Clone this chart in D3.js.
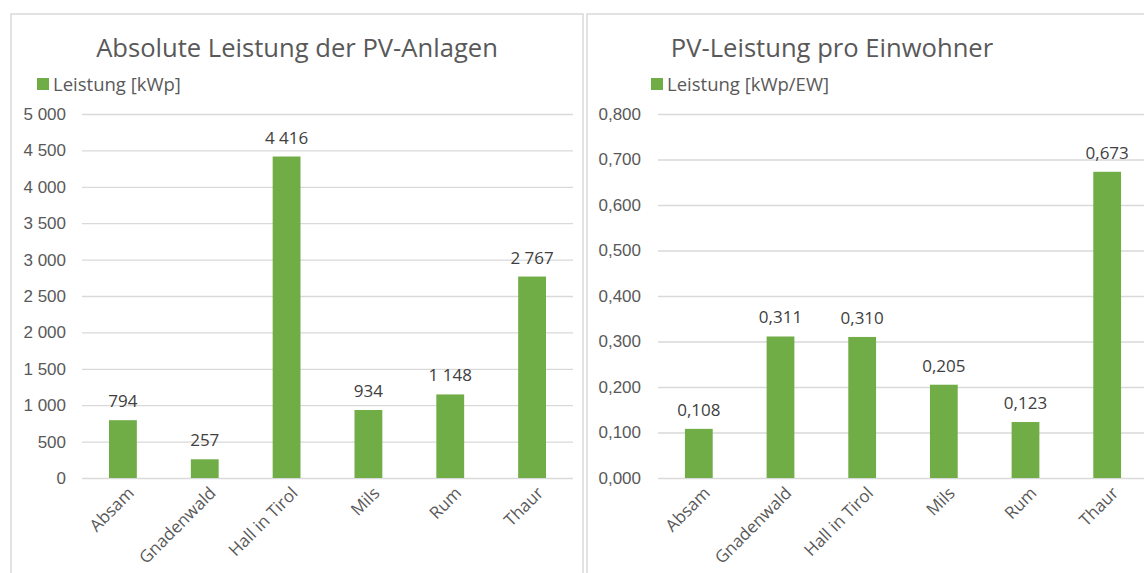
<!DOCTYPE html>
<html>
<head>
<meta charset="utf-8">
<style>
body { margin: 0; background: #fff; }
svg { font-family: "Open Sans", sans-serif; }
.grid line { stroke: #d9d9d9; stroke-width: 1.3; }
.grid path { display: none; }
.axis path, .axis line { display: none; }
.axis text { fill: #595959; font-size: 17px; }
.bar { fill: #70ad47; }
.lbl { fill: #404040; font-size: 17px; }
.title { fill: #595959; font-size: 25.6px; }
.legend text { fill: #595959; font-size: 18.5px; }
.panel { fill: none; stroke: #d9d9d9; stroke-width: 1.5; }
</style>
<title>PV</title>
<script src="https://cdn.jsdelivr.net/npm/d3@7/dist/d3.min.js"></script>
</head>
<body>
<svg width="1144" height="573"></svg>
<script>

var gemeinden = ["Absam", "Gnadenwald", "Hall in Tirol", "Mils", "Rum", "Thaur"];
var leistung = [794, 257, 4416, 934, 1148, 2767];
var leistungProEW = [0.108, 0.311, 0.310, 0.205, 0.123, 0.673];
var ticksAbs = [0, 500, 1000, 1500, 2000, 2500, 3000, 3500, 4000, 4500, 5000];
var ticksEW = [0, 0.1, 0.2, 0.3, 0.4, 0.5, 0.6, 0.7, 0.8];

var de = d3.formatLocale({decimal: ",", thousands: " ", grouping: [3], currency: ["", ""]});
var fmtAbs = de.format(",.0f"),
    fmtEW = de.format(".3f");

var svg = d3.select("svg");

// panel borders
svg.append("rect").attr("class", "panel").attr("x", 11).attr("y", 14).attr("width", 572).attr("height", 580);
svg.append("rect").attr("class", "panel").attr("x", 587).attr("y", 14).attr("width", 600).attr("height", 580);

drawPanel({
  title: "Absolute Leistung der PV-Anlagen", titleX: 297,
  legend: "Leistung [kWp]", legendX: 37,
  values: leistung, ticks: ticksAbs, max: 5000, fmt: fmtAbs,
  x0: 82, x1: 573, labelX: 66
});

drawPanel({
  title: "PV-Leistung pro Einwohner", titleX: 832,
  legend: "Leistung [kWp/EW]", legendX: 651,
  values: leistungProEW, ticks: ticksEW, max: 0.8, fmt: fmtEW,
  x0: 658, x1: 1148, labelX: 641
});

function drawPanel(o) {
  var x = d3.scaleBand().domain(gemeinden).range([o.x0, o.x1]).paddingInner(0.66).paddingOuter(0.33),
      y = d3.scaleLinear().domain([0, o.max]).range([478, 114]);

  var g = svg.append("g");

  g.append("text")
    .attr("class", "title")
    .attr("x", o.titleX)
    .attr("y", 57)
    .attr("text-anchor", "middle")
    .text(o.title);

  var lg = g.append("g").attr("class", "legend");
  lg.append("rect").attr("x", o.legendX).attr("y", 78).attr("width", 12).attr("height", 12).attr("fill", "#70ad47");
  lg.append("text").attr("x", o.legendX + 16).attr("y", 91).text(o.legend);

  // gridlines
  g.append("g")
    .attr("class", "grid")
    .attr("transform", "translate(" + o.x0 + ",0)")
    .call(d3.axisRight(y).tickValues(o.ticks).tickSize(o.x1 - o.x0).tickFormat(""));

  // y labels
  g.append("g")
    .attr("class", "axis")
    .attr("transform", "translate(" + o.labelX + ",0)")
    .call(d3.axisLeft(y).tickValues(o.ticks).tickSize(0).tickPadding(0).tickFormat(o.fmt));

  g.selectAll(".bar")
    .data(o.values)
    .enter().append("rect")
      .attr("class", "bar")
      .attr("x", function(d, i) { return x(gemeinden[i]); })
      .attr("y", function(d) { return y(d); })
      .attr("width", x.bandwidth())
      .attr("height", function(d) { return 478 - y(d); });

  g.selectAll(".lbl")
    .data(o.values)
    .enter().append("text")
      .attr("class", "lbl")
      .attr("text-anchor", "middle")
      .attr("x", function(d, i) { return x(gemeinden[i]) + x.bandwidth() / 2; })
      .attr("y", function(d) { return y(d) - 13; })
      .text(function(d) { return o.fmt(d); });

  // x labels rotated
  g.selectAll(".xl")
    .data(gemeinden)
    .enter().append("text")
      .attr("class", "xl")
      .attr("fill", "#595959")
      .style("font-size", "17px")
      .attr("text-anchor", "end")
      .attr("transform", function(d) {
        return "translate(" + (x(d) + x.bandwidth() / 2 + 8) + ",490) rotate(-45)";
      })
      .attr("dy", "0.35em")
      .text(function(d) { return d; });
}

</script>
</body>
</html>
